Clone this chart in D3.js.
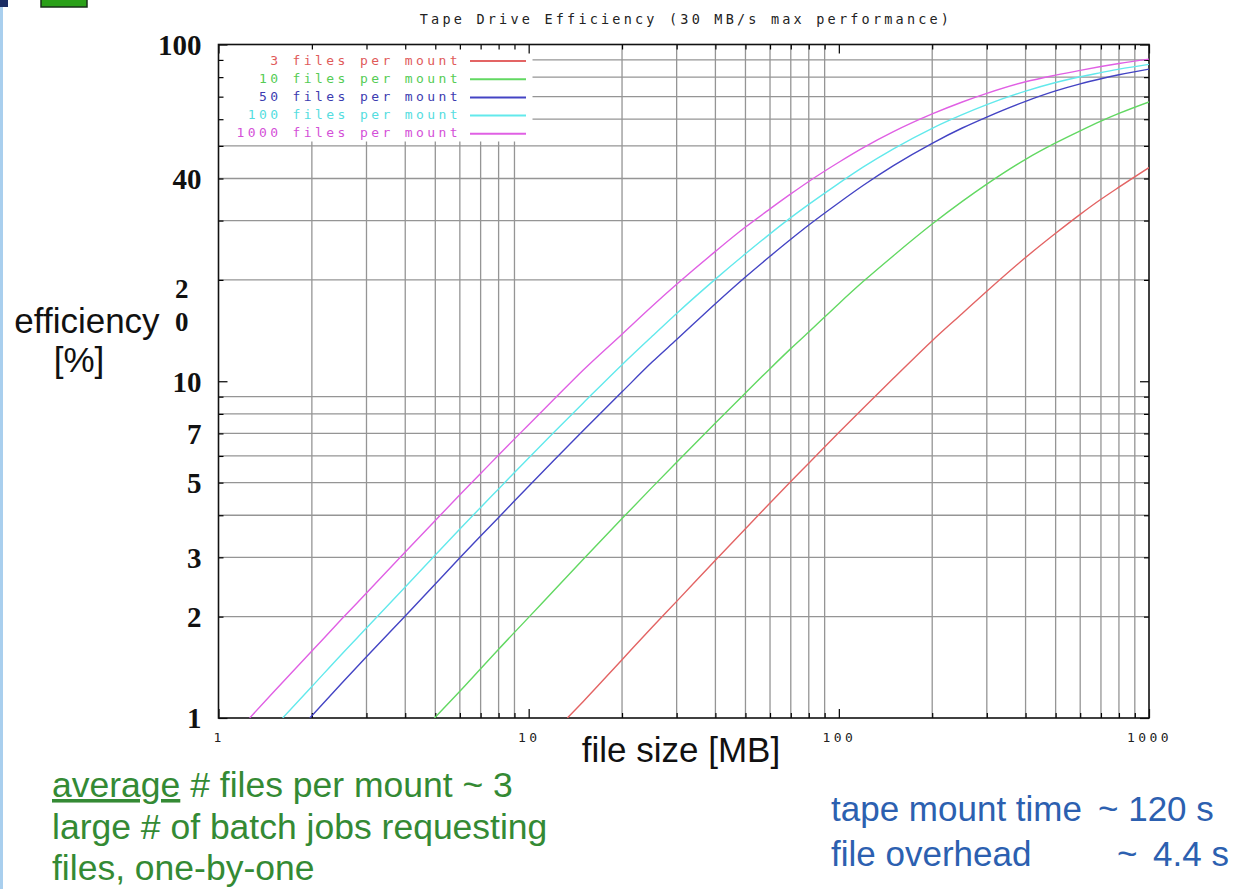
<!DOCTYPE html>
<html><head><meta charset="utf-8">
<script src="https://cdn.jsdelivr.net/npm/d3@7"></script>
<style>body{margin:0;background:#fff;} svg{display:block}</style>
</head><body>
<svg id="chart" width="1245" height="889"></svg>
<script>
// ---------------- data ----------------
const chartTitle = "Tape Drive Efficiency (30 MB/s max performance)";
const seriesNames = ["3 files per mount", "10 files per mount", "50 files per mount", "100 files per mount", "1000 files per mount"];

const sizes3 = [13.33, 15, 20, 25, 30, 40, 50, 60, 70, 80, 100, 120, 150, 200, 250, 300, 400, 500, 600, 700, 800, 1000];
const eff3   = [1.00, 1.12, 1.49, 1.86, 2.22, 2.94, 3.65, 4.35, 5.04, 5.71, 7.04, 8.33, 10.2, 13.2, 15.9, 18.5, 23.3, 27.5, 31.3, 34.7, 37.7, 43.1];

const sizes10 = [4.97, 6, 7, 8, 10, 12, 15, 20, 25, 30, 40, 50, 60, 70, 80, 100, 120, 150, 200, 250, 300, 400, 500, 600, 700, 800, 1000];
const eff10   = [1.00, 1.20, 1.40, 1.60, 1.99, 2.38, 2.96, 3.91, 4.84, 5.75, 7.52, 9.23, 10.9, 12.5, 14.0, 17.0, 19.8, 23.6, 29.3, 34.2, 38.5, 45.6, 51.0, 55.4, 59.2, 62.4, 67.5];

const sizes50 = [1.97, 2.5, 3, 4, 5, 6, 7, 8, 10, 12, 15, 20, 25, 30, 40, 50, 60, 70, 80, 100, 120, 150, 200, 250, 300, 400, 500, 600, 700, 800, 1000];
const eff50   = [1.00, 1.27, 1.52, 2.01, 2.50, 2.99, 3.47, 3.94, 4.88, 5.80, 7.14, 9.30, 11.4, 13.3, 17.0, 20.4, 23.5, 26.4, 29.1, 33.9, 38.2, 43.7, 50.9, 56.5, 60.9, 67.8, 72.8, 76.4, 79.1, 81.3, 84.5];

const sizes100 = [1.61, 2, 2.5, 3, 4, 5, 6, 7, 8, 10, 12, 15, 20, 25, 30, 40, 50, 60, 70, 80, 100, 120, 150, 200, 250, 300, 400, 500, 600, 700, 800, 1000];
const eff100   = [1.00, 1.24, 1.55, 1.85, 2.45, 3.05, 3.64, 4.22, 4.79, 5.92, 7.02, 8.62, 11.2, 13.6, 15.9, 20.1, 23.9, 27.4, 30.6, 33.5, 38.7, 43.3, 49.0, 56.4, 61.9, 66.3, 72.7, 77.1, 80.2, 82.5, 84.5, 87.3];

const sizes1000 = [1.26, 1.5, 2, 2.5, 3, 4, 5, 6, 7, 8, 10, 12, 15, 20, 25, 30, 40, 50, 60, 70, 80, 100, 120, 150, 200, 250, 300, 400, 500, 600, 700, 800, 1000];
const eff1000   = [1.00, 1.19, 1.58, 1.97, 2.35, 3.11, 3.86, 4.60, 5.32, 6.04, 7.43, 8.79, 10.8, 13.8, 16.7, 19.4, 24.3, 28.7, 32.5, 36.0, 39.2, 44.7, 49.4, 55.1, 62.2, 67.5, 71.6, 77.5, 81.1, 83.8, 86.0, 87.8, 90.5];

const xTickValues = [1, 10, 100, 1000];
const xTickLabels = ["1", "10", "100", "1000"];
const yTickValues = [1, 2, 3, 5, 7, 10, 20, 40, 100];
const yTickLabels = ["1", "2", "3", "5", "7", "10", "20", "40", "100"];

const xAxisTitle = "file size [MB]";
const yAxisTitle1 = "efficiency";
const yAxisTitle2 = "[%]";
const noteLeft = ["average", " # files per mount ~ 3", "large # of batch jobs requesting", "files, one-by-one"];
const noteRight = [["tape mount time", "~ 120 s"], ["file overhead", "~", "4.4 s"]];

// ---------------- drawing ----------------
const W = 1245, H = 889;
const L = 218.5, R = 1149, T = 44.5, B = 718;
const colors = ["#e36464", "#62d862", "#4444c4", "#62e9ec", "#e060e4"];
const textColors = ["#e05a5a", "#55cc55", "#3c3cb0", "#55dde0", "#d450d8"];
const mono = "'DejaVu Sans Mono', monospace";

const svg = d3.select("#chart");
svg.append("rect").attr("width", W).attr("height", H).attr("fill", "#fff");

// slide decorations
svg.append("rect").attr("x", 0).attr("y", 0).attr("width", 3).attr("height", H).attr("fill", "#a9cfee");
svg.append("rect").attr("x", 0).attr("y", 0).attr("width", 8).attr("height", 7).attr("fill", "#1b2d63");
svg.append("rect").attr("x", 41).attr("y", -1).attr("width", 46).attr("height", 8).attr("fill", "#2aa018").attr("stroke", "#183018").attr("stroke-width", 1.5);

const x = d3.scaleLog().domain([1, 1000]).range([L, R]);
const y = d3.scaleLog().domain([1, 100]).range([B, T]);

const isPow10 = v => Math.abs(Math.log10(v) - Math.round(Math.log10(v))) < 1e-9;
const xMinor = x.ticks().filter(v => !isPow10(v));
const yMinor = y.ticks().filter(v => !isPow10(v));

// grid (minor values only)
const grid = svg.append("g").attr("stroke", "#959595").attr("stroke-width", 1.3);
grid.selectAll(".gx").data(xMinor).join("line")
  .attr("x1", d => x(d)).attr("x2", d => x(d)).attr("y1", T).attr("y2", B);
grid.selectAll(".gy").data(yMinor).join("line")
  .attr("y1", d => y(d)).attr("y2", d => y(d)).attr("x1", L).attr("x2", R);

// legend background box
svg.append("rect").attr("x", L).attr("y", T).attr("width", 314).attr("height", 97).attr("fill", "#fff");

// axes (ticks inward)
function styleAxis(g) { g.select(".domain").remove(); g.selectAll(".tick line").attr("stroke", "#000").attr("stroke-width", 1.2); }

svg.append("g").attr("transform", `translate(0,${B})`)
  .call(d3.axisBottom(x).tickValues(xTickValues).tickSize(-9).tickPadding(15).tickFormat((d, i) => xTickLabels[i]))
  .call(styleAxis)
  .call(g => g.selectAll("text").attr("font-family", mono).attr("font-size", 13).attr("letter-spacing", 3.4).attr("fill", "#222"));
svg.append("g").attr("transform", `translate(0,${B})`)
  .call(d3.axisBottom(x).tickValues(xMinor).tickSize(-5).tickFormat("")).call(styleAxis);
svg.append("g").attr("transform", `translate(0,${T})`)
  .call(d3.axisTop(x).tickValues(xTickValues).tickSize(-9).tickFormat("")).call(styleAxis);
svg.append("g").attr("transform", `translate(0,${T})`)
  .call(d3.axisTop(x).tickValues(xMinor).tickSize(-5).tickFormat("")).call(styleAxis);

svg.append("g").attr("transform", `translate(${L},0)`)
  .call(d3.axisLeft(y).tickValues(yTickValues).tickSize(-9).tickPadding(17).tickFormat((d, i) => yTickLabels[i]))
  .call(styleAxis)
  .call(g => g.selectAll(".tick line").attr("x2", d => isPow10(d) ? 9 : 5))
  .call(g => g.selectAll("text").attr("font-family", "'Liberation Serif', 'Times New Roman', serif")
      .attr("font-weight", "bold").attr("font-size", 29).attr("fill", "#111").attr("dy", "0.34em"))
  .call(g => g.selectAll(".tick").filter(d => d === 20).select("text")
      .each(function (d) {
        const t = d3.select(this); const s = t.text(); t.text(null).attr("dy", null).attr("font-size", 27);
        t.append("tspan").attr("x", -30).attr("y", 18).text(s[0]);
        t.append("tspan").attr("x", -30).attr("y", 51).text(s[1]);
      }));
svg.append("g").attr("transform", `translate(${L},0)`)
  .call(d3.axisLeft(y).tickValues(yMinor.filter(v => !yTickValues.includes(v))).tickSize(-5).tickFormat("")).call(styleAxis);
svg.append("g").attr("transform", `translate(${R},0)`)
  .call(d3.axisRight(y).tickValues(yTickValues.filter(isPow10)).tickSize(-9).tickFormat("")).call(styleAxis);
svg.append("g").attr("transform", `translate(${R},0)`)
  .call(d3.axisRight(y).tickValues(yMinor).tickSize(-5).tickFormat("")).call(styleAxis);

// border
svg.append("rect").attr("x", L).attr("y", T).attr("width", R - L).attr("height", B - T)
  .attr("fill", "none").attr("stroke", "#111").attr("stroke-width", 1.6);

// curves
const series = [
  { name: seriesNames[0], xs: sizes3, ys: eff3 },
  { name: seriesNames[1], xs: sizes10, ys: eff10 },
  { name: seriesNames[2], xs: sizes50, ys: eff50 },
  { name: seriesNames[3], xs: sizes100, ys: eff100 },
  { name: seriesNames[4], xs: sizes1000, ys: eff1000 }
];
svg.append("clipPath").attr("id", "clip").append("rect").attr("x", L).attr("y", T).attr("width", R - L).attr("height", B - T);
const line = d3.line().x(d => x(d[0])).y(d => y(d[1])).curve(d3.curveMonotoneX);
svg.append("g").attr("clip-path", "url(#clip)").selectAll("path").data(series).join("path")
  .attr("d", s => line(s.xs.map((v, i) => [v, s.ys[i]])))
  .attr("fill", "none").attr("stroke", (s, i) => colors[i]).attr("stroke-width", 1.4);

// legend
const lg = svg.append("g");
series.forEach((s, i) => {
  const yy = 60 + i * 18.2;
  lg.append("text").attr("x", 461).attr("y", yy + 4.5).attr("text-anchor", "end")
    .attr("font-family", mono).attr("font-size", 13).attr("letter-spacing", 3.4)
    .attr("fill", textColors[i]).text(s.name);
  lg.append("line").attr("x1", 470).attr("x2", 526).attr("y1", yy + 1).attr("y2", yy + 1)
    .attr("stroke", colors[i]).attr("stroke-width", 2);
});

// title
svg.append("text").attr("x", 686).attr("y", 24).attr("text-anchor", "middle")
  .attr("font-family", mono).attr("font-size", 13.5).attr("letter-spacing", 3.2).attr("fill", "#222").text(chartTitle);

// axis titles
const sans = "'Liberation Sans', Arial, sans-serif";
svg.append("text").attr("x", 681).attr("y", 762).attr("text-anchor", "middle")
  .attr("font-family", sans).attr("font-size", 35).attr("fill", "#111").text(xAxisTitle);
svg.append("text").attr("x", 87).attr("y", 333).attr("text-anchor", "middle")
  .attr("font-family", sans).attr("font-size", 35).attr("fill", "#111").text(yAxisTitle1);
svg.append("text").attr("x", 79).attr("y", 372).attr("text-anchor", "middle")
  .attr("font-family", sans).attr("font-size", 35).attr("fill", "#111").text(yAxisTitle2);

// notes
const green = "#348a34";
const t1 = svg.append("text").attr("x", 52).attr("y", 797).attr("font-family", sans).attr("font-size", 35.5).attr("fill", green);
t1.append("tspan").attr("text-decoration", "underline").text(noteLeft[0]);
t1.append("tspan").text(noteLeft[1]);
svg.append("text").attr("x", 52).attr("y", 839).attr("font-family", sans).attr("font-size", 35.5).attr("fill", green).text(noteLeft[2]);
svg.append("text").attr("x", 52).attr("y", 880).attr("font-family", sans).attr("font-size", 35.5).attr("fill", green).text(noteLeft[3]);

const blue = "#2c60b0";
const r1 = svg.append("text").attr("y", 821).attr("font-family", sans).attr("font-size", 35).attr("fill", blue);
r1.append("tspan").attr("x", 831).text(noteRight[0][0]);
r1.append("tspan").attr("x", 1098).text(noteRight[0][1]);
const r2 = svg.append("text").attr("y", 866).attr("font-family", sans).attr("font-size", 35).attr("fill", blue);
r2.append("tspan").attr("x", 831).text(noteRight[1][0]);
r2.append("tspan").attr("x", 1117).text(noteRight[1][1]);
r2.append("tspan").attr("x", 1153).text(noteRight[1][2]);
</script>
</body></html>
